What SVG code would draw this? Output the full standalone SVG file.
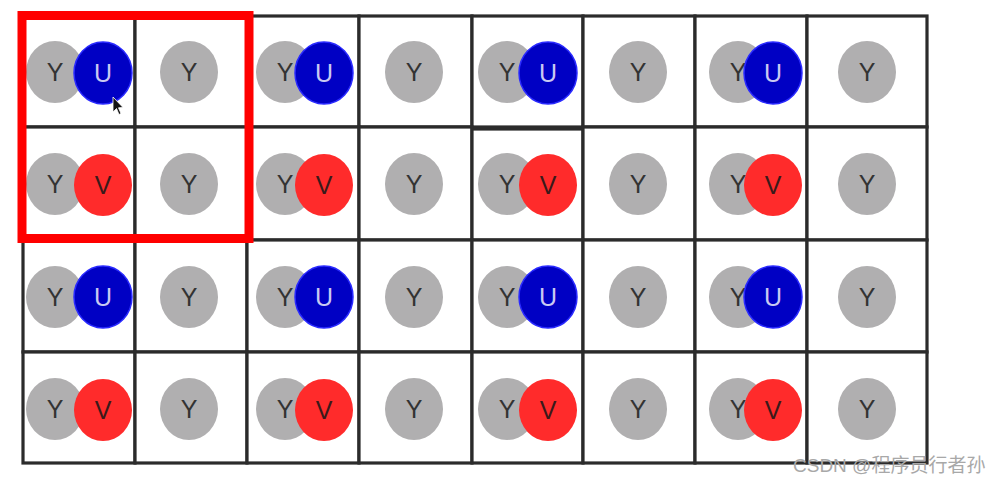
<svg xmlns="http://www.w3.org/2000/svg" width="1001" height="484" viewBox="0 0 1001 484">
<style>
.cell{fill:#fff;stroke:#2b2b2b;stroke-width:3.2}
.y{fill:#b0afb0}
.u{fill:#0000c4;stroke:#2a2aff;stroke-width:1.5}
.v{fill:#ff2b2b}
.t{font-family:"Liberation Sans",Arial,sans-serif;font-size:25px;text-anchor:middle}
.ty{fill:#333}
.tu{fill:#c9c9f2}
.tv{fill:#3a1a1a}
.wm{font-family:"Liberation Sans","Noto Sans CJK SC",sans-serif;font-size:19px;fill:#a8a8a8}
</style>
<rect width="1001" height="484" fill="#fff"/>
<g id="grid">
<!-- row 1 -->
<g id="r1c1"><rect class="cell" x="23" y="16" width="112" height="111"/><ellipse class="y" cx="55" cy="72" rx="29" ry="31"/><text class="t ty" x="55" y="81">Y</text><ellipse class="u" cx="103" cy="73" rx="29" ry="31"/><text class="t tu" x="103" y="82">U</text></g>
<g id="r1c2"><rect class="cell" x="135" y="16" width="112" height="111"/><ellipse class="y" cx="189" cy="72" rx="29" ry="31"/><text class="t ty" x="189" y="81">Y</text></g>
<g id="r1c3"><rect class="cell" x="247" y="16" width="112" height="111"/><ellipse class="y" cx="285" cy="72" rx="29" ry="31"/><text class="t ty" x="285" y="81">Y</text><ellipse class="u" cx="324" cy="73" rx="29" ry="31"/><text class="t tu" x="324" y="82">U</text></g>
<g id="r1c4"><rect class="cell" x="359" y="16" width="113" height="111"/><ellipse class="y" cx="414" cy="72" rx="29" ry="31"/><text class="t ty" x="414" y="81">Y</text></g>
<g id="r1c5"><rect class="cell" x="472" y="16" width="111" height="111"/><ellipse class="y" cx="507" cy="72" rx="29" ry="31"/><text class="t ty" x="507" y="81">Y</text><ellipse class="u" cx="548" cy="73" rx="29" ry="31"/><text class="t tu" x="548" y="82">U</text></g>
<g id="r1c6"><rect class="cell" x="583" y="16" width="112" height="111"/><ellipse class="y" cx="638" cy="72" rx="29" ry="31"/><text class="t ty" x="638" y="81">Y</text></g>
<g id="r1c7"><rect class="cell" x="695" y="16" width="112" height="111"/><ellipse class="y" cx="738" cy="72" rx="29" ry="31"/><text class="t ty" x="738" y="81">Y</text><ellipse class="u" cx="773" cy="73" rx="29" ry="31"/><text class="t tu" x="773" y="82">U</text></g>
<g id="r1c8"><rect class="cell" x="807" y="16" width="120" height="111"/><ellipse class="y" cx="867" cy="72" rx="29" ry="31"/><text class="t ty" x="867" y="81">Y</text></g>
<!-- row 2 -->
<g id="r2c1"><rect class="cell" x="23" y="127" width="112" height="113"/><ellipse class="y" cx="55" cy="184" rx="29" ry="31"/><text class="t ty" x="55" y="193">Y</text><ellipse class="v" cx="103" cy="185" rx="29" ry="31"/><text class="t tv" x="103" y="194">V</text></g>
<g id="r2c2"><rect class="cell" x="135" y="127" width="112" height="113"/><ellipse class="y" cx="189" cy="184" rx="29" ry="31"/><text class="t ty" x="189" y="193">Y</text></g>
<g id="r2c3"><rect class="cell" x="247" y="127" width="112" height="113"/><ellipse class="y" cx="285" cy="184" rx="29" ry="31"/><text class="t ty" x="285" y="193">Y</text><ellipse class="v" cx="324" cy="185" rx="29" ry="31"/><text class="t tv" x="324" y="194">V</text></g>
<g id="r2c4"><rect class="cell" x="359" y="127" width="113" height="113"/><ellipse class="y" cx="414" cy="184" rx="29" ry="31"/><text class="t ty" x="414" y="193">Y</text></g>
<g id="r2c5"><rect class="cell" x="472" y="129" width="111" height="111"/><ellipse class="y" cx="507" cy="184" rx="29" ry="31"/><text class="t ty" x="507" y="193">Y</text><ellipse class="v" cx="548" cy="185" rx="29" ry="31"/><text class="t tv" x="548" y="194">V</text></g>
<g id="r2c6"><rect class="cell" x="583" y="127" width="112" height="113"/><ellipse class="y" cx="638" cy="184" rx="29" ry="31"/><text class="t ty" x="638" y="193">Y</text></g>
<g id="r2c7"><rect class="cell" x="695" y="127" width="112" height="113"/><ellipse class="y" cx="738" cy="184" rx="29" ry="31"/><text class="t ty" x="738" y="193">Y</text><ellipse class="v" cx="773" cy="185" rx="29" ry="31"/><text class="t tv" x="773" y="194">V</text></g>
<g id="r2c8"><rect class="cell" x="807" y="127" width="120" height="113"/><ellipse class="y" cx="867" cy="184" rx="29" ry="31"/><text class="t ty" x="867" y="193">Y</text></g>
<!-- row 3 -->
<g id="r3c1"><rect class="cell" x="23" y="240" width="112" height="112"/><ellipse class="y" cx="55" cy="297" rx="29" ry="31"/><text class="t ty" x="55" y="306">Y</text><ellipse class="u" cx="103" cy="297" rx="29" ry="31"/><text class="t tu" x="103" y="306">U</text></g>
<g id="r3c2"><rect class="cell" x="135" y="240" width="112" height="112"/><ellipse class="y" cx="189" cy="297" rx="29" ry="31"/><text class="t ty" x="189" y="306">Y</text></g>
<g id="r3c3"><rect class="cell" x="247" y="240" width="112" height="112"/><ellipse class="y" cx="285" cy="297" rx="29" ry="31"/><text class="t ty" x="285" y="306">Y</text><ellipse class="u" cx="324" cy="297" rx="29" ry="31"/><text class="t tu" x="324" y="306">U</text></g>
<g id="r3c4"><rect class="cell" x="359" y="240" width="113" height="112"/><ellipse class="y" cx="414" cy="297" rx="29" ry="31"/><text class="t ty" x="414" y="306">Y</text></g>
<g id="r3c5"><rect class="cell" x="472" y="240" width="111" height="112"/><ellipse class="y" cx="507" cy="297" rx="29" ry="31"/><text class="t ty" x="507" y="306">Y</text><ellipse class="u" cx="548" cy="297" rx="29" ry="31"/><text class="t tu" x="548" y="306">U</text></g>
<g id="r3c6"><rect class="cell" x="583" y="240" width="112" height="112"/><ellipse class="y" cx="638" cy="297" rx="29" ry="31"/><text class="t ty" x="638" y="306">Y</text></g>
<g id="r3c7"><rect class="cell" x="695" y="240" width="112" height="112"/><ellipse class="y" cx="738" cy="297" rx="29" ry="31"/><text class="t ty" x="738" y="306">Y</text><ellipse class="u" cx="773" cy="297" rx="29" ry="31"/><text class="t tu" x="773" y="306">U</text></g>
<g id="r3c8"><rect class="cell" x="807" y="240" width="120" height="112"/><ellipse class="y" cx="867" cy="297" rx="29" ry="31"/><text class="t ty" x="867" y="306">Y</text></g>
<!-- row 4 -->
<g id="r4c1"><rect class="cell" x="23" y="352" width="112" height="111"/><ellipse class="y" cx="55" cy="409" rx="29" ry="31"/><text class="t ty" x="55" y="418">Y</text><ellipse class="v" cx="103" cy="410" rx="29" ry="31"/><text class="t tv" x="103" y="419">V</text></g>
<g id="r4c2"><rect class="cell" x="135" y="352" width="112" height="111"/><ellipse class="y" cx="189" cy="409" rx="29" ry="31"/><text class="t ty" x="189" y="418">Y</text></g>
<g id="r4c3"><rect class="cell" x="247" y="352" width="112" height="111"/><ellipse class="y" cx="285" cy="409" rx="29" ry="31"/><text class="t ty" x="285" y="418">Y</text><ellipse class="v" cx="324" cy="410" rx="29" ry="31"/><text class="t tv" x="324" y="419">V</text></g>
<g id="r4c4"><rect class="cell" x="359" y="352" width="113" height="111"/><ellipse class="y" cx="414" cy="409" rx="29" ry="31"/><text class="t ty" x="414" y="418">Y</text></g>
<g id="r4c5"><rect class="cell" x="472" y="352" width="111" height="111"/><ellipse class="y" cx="507" cy="409" rx="29" ry="31"/><text class="t ty" x="507" y="418">Y</text><ellipse class="v" cx="548" cy="410" rx="29" ry="31"/><text class="t tv" x="548" y="419">V</text></g>
<g id="r4c6"><rect class="cell" x="583" y="352" width="112" height="111"/><ellipse class="y" cx="638" cy="409" rx="29" ry="31"/><text class="t ty" x="638" y="418">Y</text></g>
<g id="r4c7"><rect class="cell" x="695" y="352" width="112" height="111"/><ellipse class="y" cx="738" cy="409" rx="29" ry="31"/><text class="t ty" x="738" y="418">Y</text><ellipse class="v" cx="773" cy="410" rx="29" ry="31"/><text class="t tv" x="773" y="419">V</text></g>
<g id="r4c8"><rect class="cell" x="807" y="352" width="120" height="111"/><ellipse class="y" cx="867" cy="409" rx="29" ry="31"/><text class="t ty" x="867" y="418">Y</text></g>
</g>
<g id="highlight">
<rect x="22" y="15.5" width="227" height="223" fill="none" stroke="#ff0000" stroke-width="9"/>
</g>
<g id="cursor">
<path d="M113,97 L113,112 L116.5,108.5 L119,114.5 L121,113.5 L118.5,107.8 L123,107.5 Z" fill="#111" stroke="#fff" stroke-width="0.8"/>
</g>
<g id="watermark">
<text class="wm" x="793" y="472">CSDN @程序员行者孙</text>
</g>
</svg>
